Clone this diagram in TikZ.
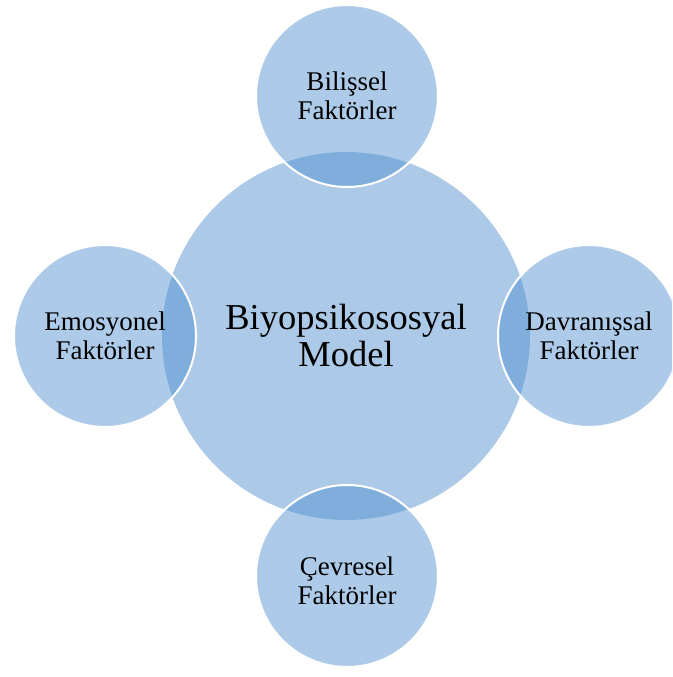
\documentclass[tikz,border=0pt]{standalone}
\usepackage{fontspec}
\setmainfont{Liberation Serif}
\definecolor{vlight}{RGB}{172,202,232}
\definecolor{vbase}{RGB}{73,140,207}
\begin{document}
\begin{tikzpicture}[x=1pt,y=-1pt,
  hub/.style={circle, fill=vlight, minimum size=368pt, inner sep=0pt,
    font=\fontsize{36.5}{37}\selectfont, align=center},
  sat/.style={circle, fill=vbase, fill opacity=0.45, text opacity=1,
    draw=white, line width=2pt, minimum size=182pt, inner sep=0pt,
    font=\fontsize{27}{29}\selectfont, align=center},
  lab/.style={inner sep=0pt, font=\fontsize{27}{29}\selectfont, align=center}]
\useasboundingbox (0,0) rectangle (672,677);
\clip (0,0) rectangle (672,677);
\node[hub] (m) at (346,336) {Biyopsikososyal\\Model};
\node[sat] (b) at (347,96) {Bilişsel\\Faktörler};
\node[sat] (e) at (105,336) {Emosyonel\\Faktörler};
\node[sat] (d) at (589,336) {Davranışsal\\Faktörler};
\node[sat] (c) at (347,576) {};
\node[lab] (ct) at (347,581) {Çevresel\\Faktörler};
\end{tikzpicture}
\end{document}
